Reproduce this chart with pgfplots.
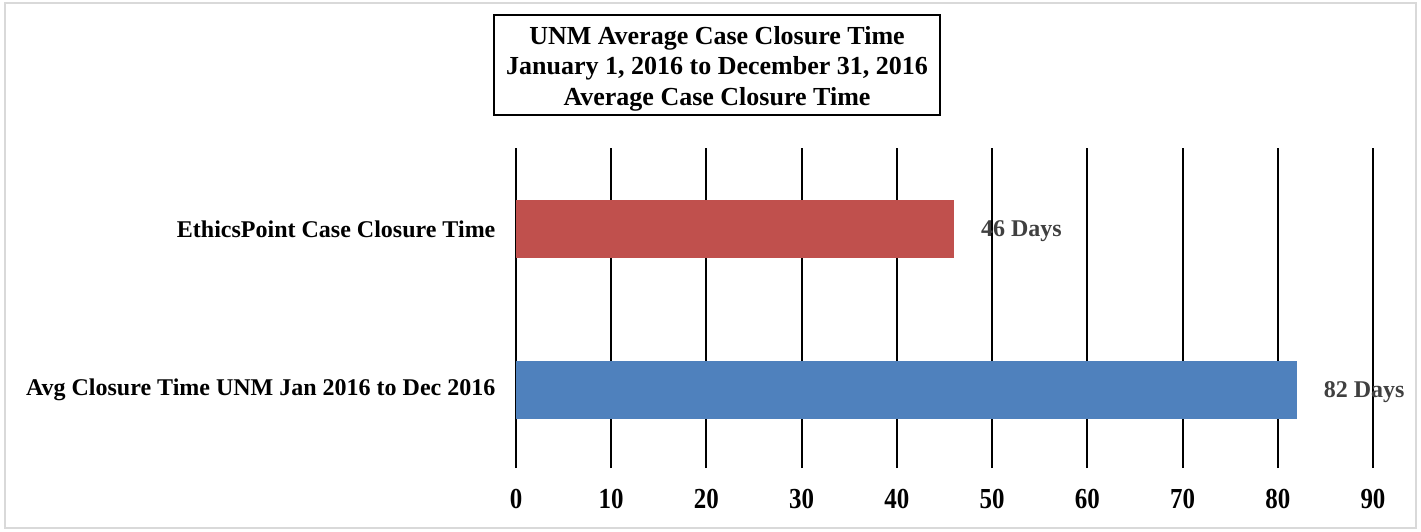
\documentclass[border=0pt]{standalone}
\usepackage{pgfplots}
\pgfplotsset{compat=1.18}
\usepackage{fontspec}
\setmainfont{Liberation Serif}
\definecolor{barred}{HTML}{C0504D}
\definecolor{barblue}{HTML}{4F81BD}
\definecolor{lblgray}{HTML}{404040}
\definecolor{bordergray}{HTML}{D9D9D9}
\begin{document}
\begin{tikzpicture}
\useasboundingbox (0,0) rectangle (710.5pt,-265.5pt);
\draw[bordergray, line width=0.9pt] (2.6pt,-1.6pt) rectangle (708pt,-264pt);
\begin{axis}[
  at={(258pt,-234pt)}, anchor=south west,
  scale only axis, width=428.5pt, height=160pt,
  xbar, bar shift=0pt, bar width=29pt,
  xmin=0, xmax=90, ymin=-0.484, ymax=1.503,
  xtick={0,10,...,90}, ytick={0,1},
  yticklabels={Avg Closure Time UNM Jan 2016 to Dec 2016, EthicsPoint Case Closure Time},
  axis line style={draw=none},
  major tick style={draw=none},
  xmajorgrids, ymajorgrids=false,
  major grid style={black, line width=1pt},
  /pgf/number format/assume math mode=true,
  xticklabel={\scalebox{0.86}[1]{\pgfmathprintnumber{\tick}}},
  xticklabel style={font=\fontsize{14.5}{16}\selectfont\bfseries, yshift=-7pt},
  yticklabel style={font=\fontsize{12}{14}\selectfont\bfseries, xshift=-2.5pt},
  nodes near coords={\pgfmathprintnumber{\pgfplotspointmeta}\ Days},
  every node near coord/.append style={font=\fontsize{12}{14}\selectfont\bfseries, text=lblgray, xshift=10pt, yshift=-1.2pt},
  clip=false,
]
\addplot[draw=none, fill=barblue] coordinates {(82,0)};
\addplot[draw=none, fill=barred] coordinates {(46,1)};
\end{axis}
\node[draw, line width=0.9pt, minimum width=223pt, minimum height=50pt, align=center,
  font=\fontsize{13}{15.3}\selectfont\bfseries, inner sep=0pt] at (358.5pt,-32.5pt) {};
\node[align=center, font=\fontsize{13}{15.3}\selectfont\bfseries, inner sep=0pt] at (358.5pt,-34.3pt)
  {UNM Average Case Closure Time\\January 1, 2016 to December 31, 2016\\Average Case Closure Time};
\end{tikzpicture}
\end{document}
